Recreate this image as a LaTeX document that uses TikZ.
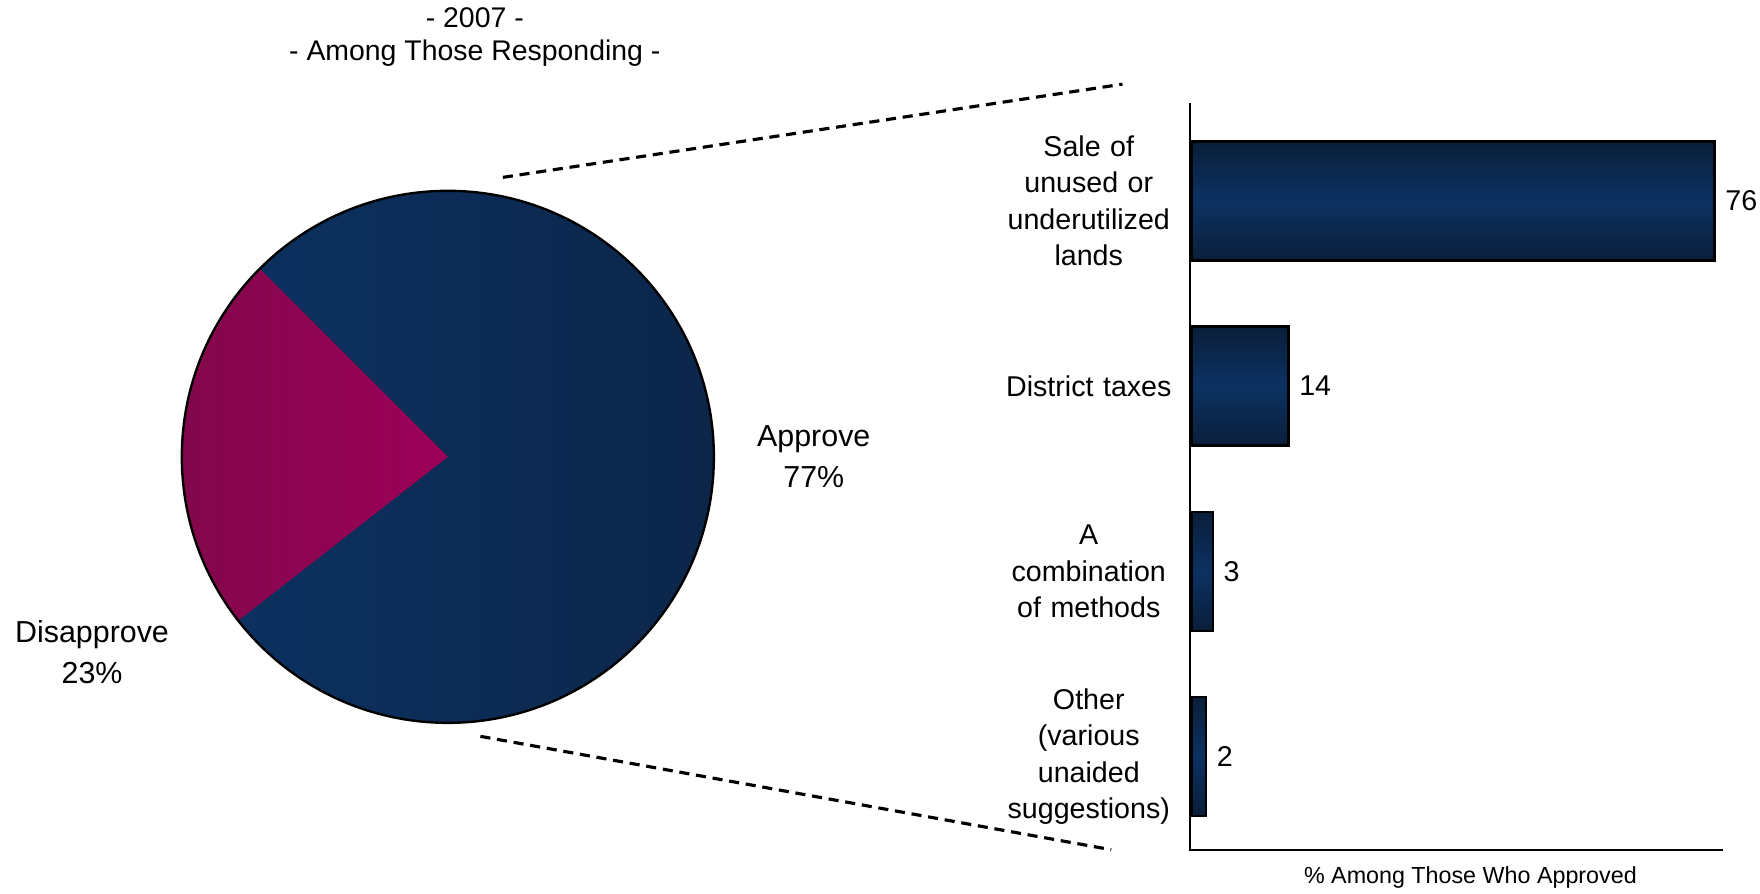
\documentclass[tikz,border=0pt]{standalone}
\usepackage{fontspec}
\setmainfont{Liberation Sans}
\usetikzlibrary{positioning}
\definecolor{pieblue}{RGB}{12,50,98}
\definecolor{piedark}{RGB}{12,38,74}
\definecolor{piemagenta}{RGB}{156,0,88}
\definecolor{magentadark}{RGB}{128,8,74}
\definecolor{barblue}{RGB}{12,50,98}
\definecolor{bardark}{RGB}{10,30,58}

\begin{document}
\begin{tikzpicture}[x=0.01cm, y=0.01cm,
  every node/.style={font=\fontsize{7.25}{9.25}\selectfont, inner sep=0pt},
  lbl/.style={align=center, text width=1.6cm},
  bar/.style={draw=black, line width=0.6pt, anchor=west, minimum height=1.06cm,
    top color=bardark, bottom color=bardark, middle color=barblue},
  val/.style={right=0.8mm of #1},
  zoomline/.style={dash pattern=on 0.9mm off 0.6mm, line width=0.8pt}]
 \useasboundingbox (0,0) rectangle (1568,-796);
 \node[align=center, font=\fontsize{7.2}{8.5}\selectfont] (title) at (423,-33) {- 2007 -\\- Among Those Responding -};

 \shade[left color=pieblue, right color=piedark] (399,-407) circle[radius=237];
 \shade[left color=magentadark, right color=piemagenta] (399,-407) -- +(135:237)
   arc[start angle=135, end angle=218, radius=237] -- cycle;
 \draw[line width=0.6pt] (399,-407) circle[radius=237];
 \node[align=center, font=\fontsize{7.7}{10.5}\selectfont] (approve) at (725,-407) {Approve\\77\%};
 \node[align=center, font=\fontsize{7.7}{10.5}\selectfont] (disapprove) at (82,-581) {Disapprove\\23\%};

 \coordinate (pietop) at (448,-158);
 \coordinate (piebot) at (428,-656);
 \coordinate (charttop) at (1000,-75);
 \coordinate (chartbot) at (990,-757);
 \draw[zoomline] (pietop) -- (charttop);
 \draw[zoomline] (piebot) -- (chartbot);

 \node[bar, minimum width=76*0.612mm] (b1) at (1061,-179) {};
 \node[bar, minimum width=14*0.612mm] (b2) at (1061,-344) {};
 \node[bar, minimum width=3*0.612mm]  (b3) at (1061,-509) {};
 \node[bar, minimum width=2*0.612mm]  (b4) at (1061,-674) {};
 \node[val=b1] (v1) {76};
 \node[val=b2] (v2) {14};
 \node[val=b3] (v3) {3};
 \node[val=b4] (v4) {2};

 \node[lbl] (c1) at (970,-179) {Sale of\\unused or\\underutilized\\lands};
 \node[lbl] (c2) at (970,-344) {District taxes};
 \node[lbl] (c3) at (970,-509) {A\\combination\\of methods};
 \node[lbl] (c4) at (970,-674) {Other\\(various\\unaided\\suggestions)};

 \coordinate (axtop) at (1060,-92);
 \coordinate (axorigin) at (1060,-757);
 \coordinate (axright) at (1535,-757);
 \draw[line width=0.6pt] (axtop) -- (axorigin) -- (axright);
 \node[font=\fontsize{5.9}{7}\selectfont] (axtitle) at (1310,-782) {\% Among Those Who Approved};
\end{tikzpicture}
\end{document}
